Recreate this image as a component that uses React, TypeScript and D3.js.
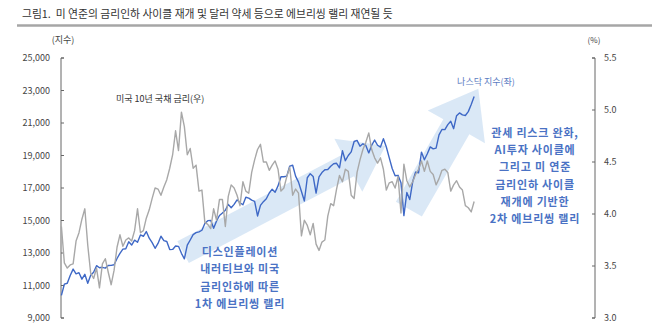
import React, { useEffect } from 'react';
import * as d3 from 'd3';

// weekly points, first week starts 2023-01-02
const startWeek = new Date(2023, 0, 2);

// 나스닥 지수 (좌)
const nasdaq2023 = [
  10390, 11080, 11140, 11620, 12010, 11720, 11790, 11390, 11690, 11140,
  11630, 11820, 12220, 12090, 12120, 12070, 12230, 12240, 12280, 12660,
  12980, 13240, 13260, 13690, 13490, 13790, 13660, 14110, 14030, 14320,
  13910, 13640, 13290, 13590, 14030, 13760, 13710, 13210, 13220, 13430,
  13410, 12980, 12640, 13480, 13800, 14130, 14250, 14300, 14400, 14810,
  14990, 15010,
];
const nasdaq2024 = [
  14520, 14970, 15310, 15460, 15630, 15990, 15780, 15990, 16270, 16090,
  15970, 16430, 16380, 16250, 16180, 15280, 15930, 16160, 16340, 16690,
  16920, 16740, 17130, 17690, 17690, 17730, 18350, 18400, 17730, 17360,
  16780, 16200, 17630, 17880, 17710, 16690, 17680, 17950, 18120, 18140,
  18340, 18490, 18520, 18240, 19290, 18680, 19000, 19220, 19860, 19930,
  19570, 19720,
];
const nasdaq2025 = [
  19620, 19160, 19630, 19950, 19630, 19520, 20030, 19520, 18850, 18200,
  17750, 17780, 17320, 15300, 16720, 16290, 17380, 17980, 17930, 19210,
  18740, 19110, 19530, 19410, 19450, 20270, 20600, 20590, 20900, 21110,
  20650, 21450, 21620, 21500, 21460, 21700, 22140, 22630,
];

// 미국 10년 국채 금리 (우), %
const ust2023 = [
  3.88, 3.53, 3.48, 3.51, 3.52, 3.74, 3.82, 3.95, 4.05, 3.70,
  3.43, 3.38, 3.48, 3.29, 3.52, 3.57, 3.44, 3.32, 3.46, 3.68,
  3.80, 3.69, 3.75, 3.77, 3.74, 3.84, 4.05, 3.82, 3.84, 3.96,
  4.04, 4.15, 4.25, 4.24, 4.18, 4.26, 4.33, 4.44, 4.57, 4.80,
  4.61, 4.98, 4.84, 4.57, 4.63, 4.44, 4.47, 4.22, 4.23, 3.92,
  3.90, 3.86,
];
const ust2024 = [
  4.05, 3.94, 4.14, 4.14, 3.88, 4.17, 4.28, 4.25, 4.18, 4.08,
  4.31, 4.22, 4.20, 4.40, 4.52, 4.62, 4.67, 4.50, 4.50, 4.42,
  4.47, 4.51, 4.43, 4.22, 4.25, 4.36, 4.45, 4.18, 4.24, 4.20,
  3.79, 3.94, 3.89, 3.80, 3.91, 3.71, 3.65, 3.73, 3.75, 3.98,
  4.10, 4.08, 4.24, 4.37, 4.31, 4.43, 4.41, 4.18, 4.15, 4.40,
  4.52, 4.62,
];
const ust2025 = [
  4.69, 4.78, 4.62, 4.54, 4.49, 4.54, 4.43, 4.23, 4.30, 4.31,
  4.25, 4.36, 4.01, 4.48, 4.32, 4.26, 4.31, 4.38, 4.43, 4.51,
  4.41, 4.51, 4.41, 4.38, 4.28, 4.34, 4.42, 4.43, 4.40, 4.22,
  4.28, 4.32, 4.26, 4.23, 4.08, 4.06, 4.02, 4.12,
];

const nasdaq = [...nasdaq2023, ...nasdaq2024, ...nasdaq2025];
const ust10 = [...ust2023, ...ust2024, ...ust2025];

const leftTicks = [9000, 11000, 13000, 15000, 17000, 19000, 21000, 23000, 25000];
const rightTicks = [3.0, 3.5, 4.0, 4.5, 5.0, 5.5];

const title = '그림1.  미 연준의 금리인하 사이클 재개 및 달러 약세 등으로 에브리씽 랠리 재연될 듯';
const rally1 = ['디스인플레이션', '내러티브와 미국', '금리인하에 따른', '1차 에브리씽 랠리'];
const rally2 = ['관세 리스크 완화,', 'AI투자 사이클에', '그리고 미 연준', '금리인하 사이클', '재개에 기반한', '2차 에브리씽 랠리'];

const FONT = "'Noto Sans CJK KR', 'Noto Sans', sans-serif";
const BLUE = '#3e68c6';
const GRAY = '#a8a8a8';
const TEXTBLUE = '#4a72c4';

// block arrow polygon from tail centre to tip
function arrowPath(x0: number, y0: number, x1: number, y1: number, half: number, headHalf: number, headLen: number) {
  const len = Math.hypot(x1 - x0, y1 - y0);
  const ux = (x1 - x0) / len, uy = (y1 - y0) / len;
  const nx = -uy, ny = ux;
  const bx = x1 - ux * headLen, by = y1 - uy * headLen;
  const pts = [
    [x0 + nx * half, y0 + ny * half],
    [bx + nx * half, by + ny * half],
    [bx + nx * headHalf, by + ny * headHalf],
    [x1, y1],
    [bx - nx * headHalf, by - ny * headHalf],
    [bx - nx * half, by - ny * half],
    [x0 - nx * half, y0 - ny * half],
  ];
  return 'M' + pts.map(p => p.join(',')).join('L') + 'Z';
}

export default function App() {
  useEffect(() => {
    document.body.style.margin = '0';
  }, []);

  const W = 670, H = 326;
  const left = 61, right = 595, top = 58, bottom = 318;

  const x = d3.scaleTime().domain([new Date(2023, 0, 1), new Date(2026, 6, 1)]).range([left, right]);
  const yL = d3.scaleLinear().domain([9000, 25000]).range([bottom, top]);
  const yR = d3.scaleLinear().domain([3.0, 5.5]).range([bottom, top]);
  const dateAt = (i: number) => d3.timeDay.offset(startWeek, i * 7);

  const nasdaqLine = d3.line<number>().x((_, i) => x(dateAt(i))).y(d => yL(d));
  const ustLine = d3.line<number>().x((_, i) => x(dateAt(i))).y(d => yR(d));

  // arrows anchored in data space
  const a1 = arrowPath(x(new Date(2023, 9, 20)), yL(13050), x(new Date(2025, 1, 15)), yL(19600), 12.3, 30, 42);
  const a2 = arrowPath(x(new Date(2025, 3, 12)), yL(15700), x(new Date(2025, 8, 25)), yL(22000) - 18, 15, 33, 44);

  return (
    <svg width={W} height={H} style={{ display: 'block', position: 'absolute', left: 0, top: 0, background: '#fff' }} fontFamily={FONT}>
      <text x={22} y={18} fontSize={10.8} fill="#333" style={{ whiteSpace: 'pre' }}>{title}</text>
      <line x1={17} x2={652} y1={25.5} y2={25.5} stroke="#a6a6a6" strokeWidth={2.5} />

      <text x={63} y={43} fontSize={9} fill="#444" textAnchor="middle">(지수)</text>
      <text x={594} y={43} fontSize={8} fill="#444" textAnchor="middle">(%)</text>

      {/* left axis */}
      <path d={`M${left + 3},${top}H${left}V${bottom}H${left + 3}`} fill="none" stroke="#666" />
      {leftTicks.map(t => (
        <g key={t}>
          <line x1={left} x2={left + 3} y1={yL(t)} y2={yL(t)} stroke="#666" />
          <text x={50} y={yL(t) + 3} fontSize={9} fill="#444" textAnchor="end">{d3.format(',')(t)}</text>
        </g>
      ))}

      {/* right axis */}
      <path d={`M${right - 3},${top}H${right}V${bottom}H${right - 3}`} fill="none" stroke="#666" />
      {rightTicks.map(t => (
        <g key={t}>
          <line x1={right - 3} x2={right} y1={yR(t)} y2={yR(t)} stroke="#666" />
          <text x={604} y={yR(t) + 3} fontSize={9} fill="#444">{t.toFixed(1)}</text>
        </g>
      ))}

      <path d={a1} fill="#d6e5f5" opacity={0.9} />
      <path d={a2} fill="#d6e5f5" opacity={0.9} />

      <path d={nasdaqLine(nasdaq) || ''} fill="none" stroke={BLUE} strokeWidth={1.4} strokeLinejoin="round" />
      <path d={ustLine(ust10) || ''} fill="none" stroke={GRAY} strokeWidth={1.4} strokeLinejoin="round" />

      <text x={116} y={102} fontSize={9} fill="#333">미국 10년 국채 금리(우)</text>
      <text x={486} y={85} fontSize={9} fill="#5b7cc2" textAnchor="middle">나스닥 지수(좌)</text>

      {rally1.map((s, i) => (
        <text key={s} x={240} y={256 + i * 17.4} fontSize={11} fontWeight="bold" fill={TEXTBLUE} textAnchor="middle" letterSpacing={0.8}>{s}</text>
      ))}
      {rally2.map((s, i) => (
        <text key={s} x={535} y={137 + i * 17.2} fontSize={11} fontWeight="bold" fill={TEXTBLUE} textAnchor="middle" letterSpacing={0.8}>{s}</text>
      ))}
    </svg>
  );
}
